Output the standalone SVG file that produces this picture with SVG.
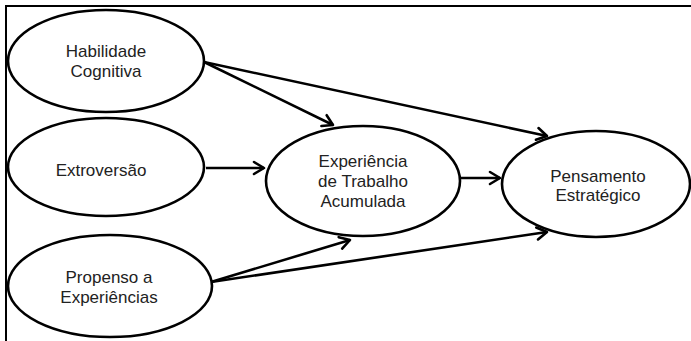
<svg xmlns="http://www.w3.org/2000/svg" width="691" height="341" viewBox="0 0 691 341">
<defs>
<marker id="arr" markerUnits="userSpaceOnUse" markerWidth="16" markerHeight="16" viewBox="0 0 16 16" refX="13" refY="8" orient="auto">
<path d="M3,2 L13,8 L3,14" fill="none" stroke="#000" stroke-width="2.6" stroke-linecap="round" stroke-linejoin="round"/>
</marker>
</defs>
<style>
.n ellipse{fill:#fff;stroke:#000;stroke-width:2.6}
.n text{font-family:"Liberation Sans",Arial,sans-serif;font-size:17px;fill:#222;text-anchor:middle}
.c line{stroke:#000;stroke-width:2.6;marker-end:url(#arr)}
</style>
<rect width="691" height="341" fill="#fff"/>
<path d="M6,341 L6,6 L691,6" fill="none" stroke="#000" stroke-width="2"/>
<g id="connectors" class="c">
<line x1="204" y1="62" x2="333" y2="125"/>
<line x1="204" y1="62" x2="547" y2="136"/>
<line x1="206" y1="168" x2="264" y2="168"/>
<line x1="211" y1="282" x2="350" y2="240"/>
<line x1="211" y1="282" x2="547" y2="232"/>
<line x1="461" y1="178" x2="500" y2="178"/>
</g>
<g id="habilidade" class="n">
<ellipse cx="106" cy="61" rx="98" ry="51"/>
<text x="106" y="57">Habilidade</text>
<text x="106" y="77">Cognitiva</text>
</g>
<g id="extroversao" class="n">
<ellipse cx="106" cy="167" rx="98" ry="49"/>
<text x="101" y="176">Extroversão</text>
</g>
<g id="propenso" class="n">
<ellipse cx="110" cy="286" rx="102" ry="51"/>
<text x="109" y="283">Propenso a</text>
<text x="109" y="303">Experiências</text>
</g>
<g id="experiencia" class="n">
<ellipse cx="363" cy="181" rx="97" ry="55"/>
<text x="363" y="167">Experiência</text>
<text x="363" y="187">de Trabalho</text>
<text x="363" y="207">Acumulada</text>
</g>
<g id="pensamento" class="n">
<ellipse cx="596" cy="184" rx="94" ry="53"/>
<text x="598" y="182">Pensamento</text>
<text x="598" y="201">Estratégico</text>
</g>
</svg>
